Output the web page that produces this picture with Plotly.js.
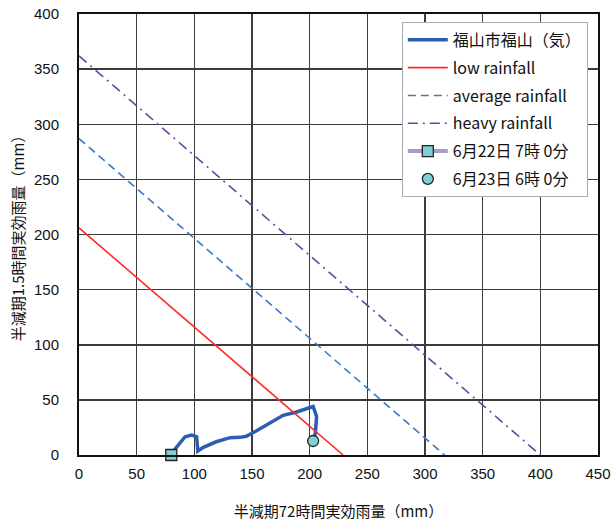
<!DOCTYPE html>
<html>
<head>
<meta charset="utf-8">
<script src="https://cdn.plot.ly/plotly-3.0.1.min.js"></script>
<style>html,body{margin:0;padding:0;background:#fff;}#chart{width:611px;height:528px;}</style>
</head>
<body>
<div id="chart"></div>
<script>
// Observed trajectory (72h effective rainfall, 1.5h effective rainfall)
const curveX = [79, 92, 97.7, 102, 103, 107.8, 119, 131, 139.6, 145, 154, 165.6, 177, 188.7, 203, 206, 205, 203];
const curveY = [0, 16.6, 18, 16.6, 3.6, 7, 12, 15.7, 16, 17, 22, 29, 36, 39, 44, 35, 20, 12.7];

// Criteria lines (endpoints)
const lowX = [0, 229];
const lowY = [206, 0];
const avgX = [0, 317];
const avgY = [287, 0];
const heavyX = [0, 400];
const heavyY = [362, 0];

// Start / end points
const startX = [80];
const startY = [0];
const endX = [203];
const endY = [12.7];

const names = ['福山市福山（気）', 'low rainfall', 'average rainfall', 'heavy rainfall', '6月22日 7時 0分', '6月23日 6時 0分'];

const traces = [
  {x: curveX, y: curveY, mode: 'lines', name: names[0], legendgroup: 'a',
   line: {color: '#2b5db0', width: 3.5}},
  {x: lowX, y: lowY, mode: 'lines', name: names[1], legendgroup: 'b',
   line: {color: '#ff2b2b', width: 1.6}},
  {x: avgX, y: avgY, mode: 'lines', name: names[2], legendgroup: 'c',
   line: {color: '#3a78c9', width: 1.6, dash: '8px,5px'}},
  {x: heavyX, y: heavyY, mode: 'lines', name: names[3], legendgroup: 'd',
   line: {color: '#7042a3', width: 1.6, dash: '10px,5px,2px,5px'}},
  {x: startX, y: startY, mode: 'lines+markers', name: names[4], legendgroup: 'e',
   line: {color: '#a99cc8', width: 4}, cliponaxis: false,
   marker: {symbol: 'square', size: 11, color: '#7fd0d6', line: {color: '#222', width: 1.3}}},
  {x: endX, y: endY, mode: 'markers', name: names[5], legendgroup: 'f', cliponaxis: false,
   marker: {symbol: 'circle', size: 11, color: '#7fd0d6', line: {color: '#222', width: 1.3}}}
];

const tickFont = {family: 'Liberation Sans, Arial, sans-serif', size: 15, color: '#111'};
const cjk = 'Noto Sans CJK JP, sans-serif';

const layout = {
  width: 611, height: 528,
  margin: {l: 79, r: 13, t: 14, b: 73},
  paper_bgcolor: '#fff', plot_bgcolor: '#fff',
  showlegend: true,
  legend: {
    x: 0.622, y: 0.982, xanchor: 'left', yanchor: 'top',
    bgcolor: '#fff', bordercolor: '#aaaaaa', borderwidth: 1,
    font: {family: cjk, size: 16, color: '#111'},
    traceorder: 'grouped', tracegroupgap: 4, itemwidth: 40
  },
  xaxis: {
    range: [0, 450], dtick: 50, tick0: 0,
    showgrid: true, gridcolor: '#3c3c3c', gridwidth: 1.5,
    showline: true, linecolor: '#111', linewidth: 2, mirror: true,
    zeroline: false, ticks: '', tickfont: tickFont, ticklabelstandoff: 4,
    title: {text: '半減期72時間実効雨量（mm）', font: {family: cjk, size: 15, color: '#111'}, standoff: 25}
  },
  yaxis: {
    range: [0, 400], dtick: 50, tick0: 0,
    showgrid: true, gridcolor: '#3c3c3c', gridwidth: 1.5,
    showline: true, linecolor: '#111', linewidth: 2, mirror: true,
    zeroline: false, ticks: '', tickfont: tickFont, ticklabelstandoff: 15,
    title: {text: '半減期1.5時間実効雨量（mm）', font: {family: cjk, size: 15, color: '#111'}, standoff: 6}
  }
};

Plotly.newPlot('chart', traces, layout, {displayModeBar: false, staticPlot: true});
</script>
</body>
</html>
